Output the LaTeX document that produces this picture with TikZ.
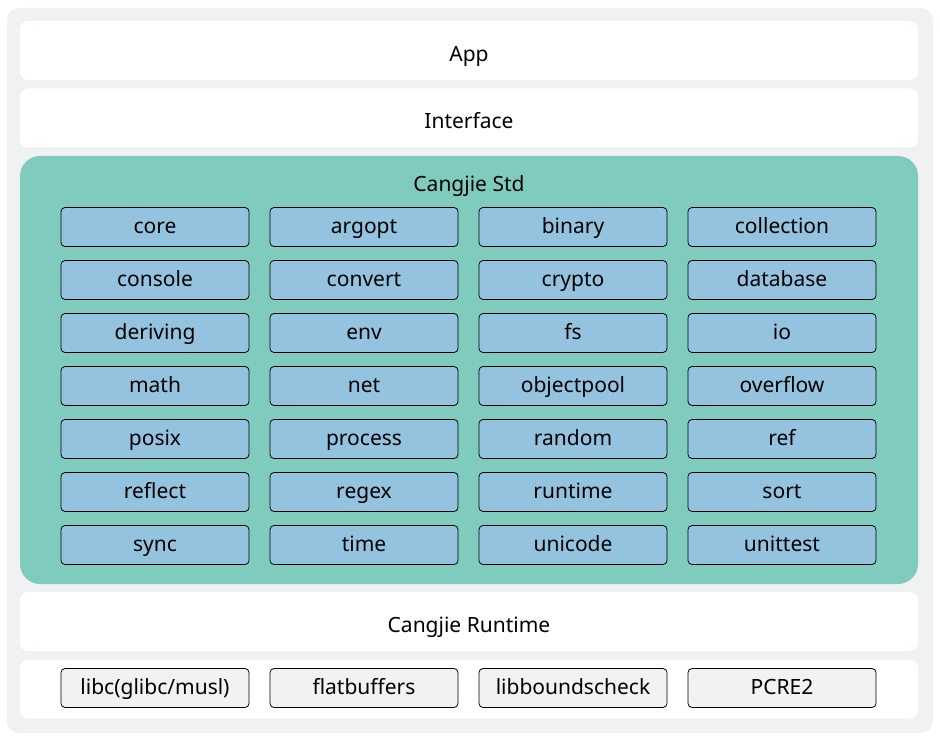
\documentclass[tikz,border=0pt]{standalone}
\usepackage{fontspec}
\setmainfont{Noto Sans}
\usetikzlibrary{positioning}

\definecolor{panelgray}{HTML}{F0F1F3}
\definecolor{stdteal}{HTML}{7FCCBF}
\definecolor{modblue}{HTML}{94C3E0}
\definecolor{libgray}{HTML}{F2F2F2}

\tikzset{
	layer/.style = {fill=white, rounded corners=8pt, minimum width=898pt, minimum height=59pt, inner sep=0pt,
		text height=24pt, text depth=2pt, font=\fontsize{21}{24}\selectfont},
	module/.style = {draw=black, line width=0.8pt, fill=modblue, rounded corners=4pt, minimum width=188pt, minimum height=39pt, inner sep=0pt,
		text height=16pt, text depth=3pt, font=\fontsize{21}{24}\selectfont},
	libbox/.style = {module, fill=libgray}
}

\begin{document}
\begin{tikzpicture}[x=1pt, y=-1pt]
		\useasboundingbox (0,0) rectangle (940,741);
		\fill[panelgray, rounded corners=12pt] (7,8) rectangle (933,733);

		\node[layer] (app) at (469,50.5) {App};
		\node[layer] (iface) at (469,118) {Interface};

		% standard library
		\node[fill=stdteal, rounded corners=20pt, minimum width=898pt, minimum height=428pt, inner sep=0pt] (std) at (469,370) {};
		\node[anchor=base, inner sep=0pt, font=\fontsize{21}{24}\selectfont] (stdtitle) at (469,191.7) {Cangjie Std};
		\foreach \name [count=\i from 0] in {
			core, argopt, binary, collection,
			console, convert, crypto, database,
			deriving, env, fs, io,
			math, net, objectpool, overflow,
			posix, process, random, ref,
			reflect, regex, runtime, sort,
			sync, time, unicode, unittest}
		{
			\pgfmathtruncatemacro{\row}{\i/4}
			\pgfmathtruncatemacro{\col}{mod(\i,4)}
			\node[module] (mod-\name) at (155+209*\col, 227+53*\row) {\name};
		}

		\node[layer] (rt) at (469,621.5) {Cangjie Runtime};

		% third party libraries
		\node[layer] (deps) at (469,689) {};
		\node[libbox] (libc) at (155,688) {libc(glibc/musl)};
		\node[libbox] (flatbuf) at (364,688) {flatbuffers};
		\node[libbox] (bounds) at (573,688) {libboundscheck};
		\node[libbox] (pcre) at (782,688) {PCRE2};
	\end{tikzpicture}
\end{document}
